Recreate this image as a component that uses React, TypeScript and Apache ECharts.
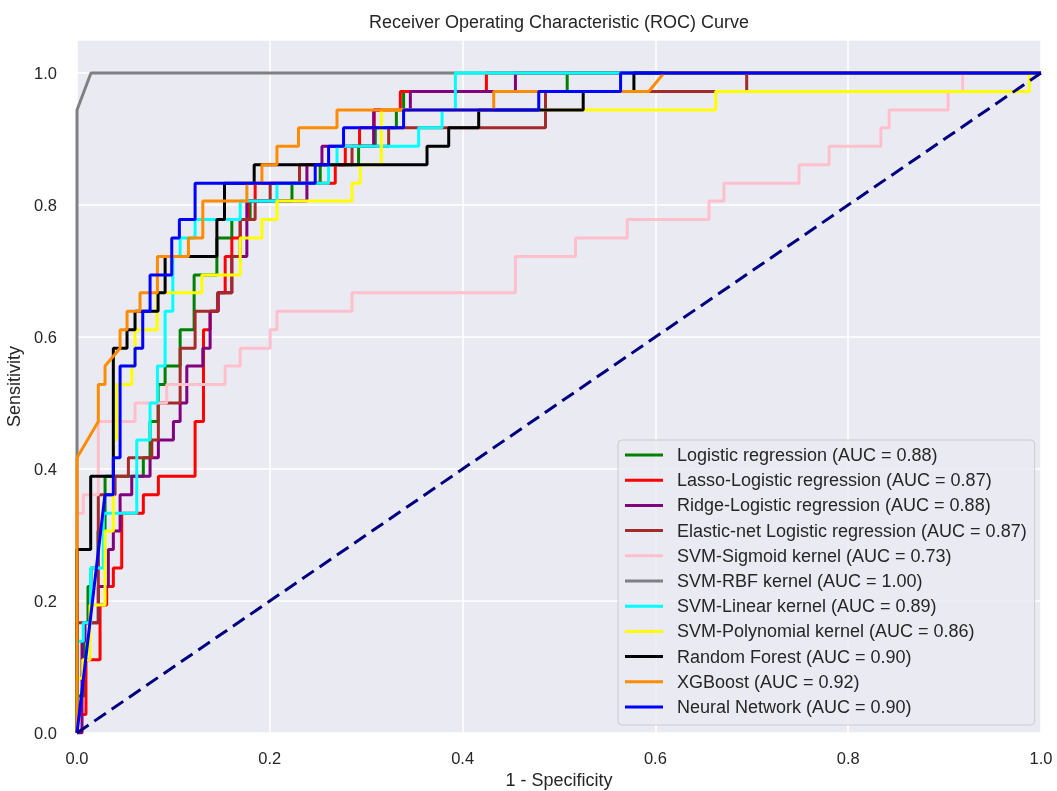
import React, { useEffect, useRef } from "react";
import * as echarts from "echarts";

// ---- data (FPR, TPR) ----
const logisticRoc = [[0,0],[0,0.056],[0.0073,0.056],[0.0073,0.167],[0.0114,0.167],[0.0114,0.222],[0.0145,0.222],[0.0145,0.25],[0.0218,0.25],[0.0218,0.306],[0.0291,0.306],[0.0291,0.389],[0.0688,0.389],[0.0688,0.417],[0.0758,0.417],[0.0758,0.472],[0.0841,0.472],[0.0841,0.528],[0.0914,0.528],[0.0914,0.556],[0.107,0.556],[0.107,0.611],[0.1215,0.611],[0.1215,0.694],[0.1451,0.694],[0.1451,0.75],[0.1606,0.75],[0.1606,0.778],[0.1796,0.778],[0.1796,0.806],[0.223,0.806],[0.223,0.833],[0.2523,0.833],[0.2523,0.861],[0.2921,0.861],[0.2921,0.889],[0.3094,0.889],[0.3094,0.917],[0.3313,0.917],[0.3313,0.944],[0.3388,0.944],[0.3388,0.972],[0.5085,0.972],[0.5085,1],[1,1]];
const lassoRoc = [[0,0],[0,0.028],[0.0093,0.028],[0.0093,0.111],[0.0239,0.111],[0.0239,0.194],[0.0308,0.194],[0.0308,0.222],[0.0377,0.222],[0.0377,0.25],[0.0464,0.25],[0.0464,0.333],[0.0688,0.333],[0.0688,0.361],[0.0844,0.361],[0.0844,0.389],[0.1225,0.389],[0.1225,0.472],[0.1312,0.472],[0.1312,0.611],[0.1381,0.611],[0.1381,0.639],[0.1464,0.639],[0.1464,0.667],[0.1537,0.667],[0.1537,0.722],[0.1606,0.722],[0.1606,0.75],[0.1693,0.75],[0.1693,0.778],[0.1776,0.778],[0.1776,0.806],[0.1848,0.806],[0.1848,0.833],[0.2679,0.833],[0.2679,0.861],[0.2783,0.861],[0.2783,0.889],[0.2931,0.889],[0.2931,0.917],[0.3084,0.917],[0.3084,0.944],[0.3354,0.944],[0.3354,0.972],[0.4247,0.972],[0.4247,1],[1,1]];
const ridgeRoc = [[0,0],[0.0052,0],[0.0052,0.139],[0.0083,0.139],[0.0083,0.167],[0.0221,0.167],[0.0221,0.222],[0.0325,0.222],[0.0325,0.278],[0.0377,0.278],[0.0377,0.306],[0.0447,0.306],[0.0447,0.361],[0.0568,0.361],[0.0568,0.389],[0.0758,0.389],[0.0758,0.417],[0.0844,0.417],[0.0844,0.444],[0.1,0.444],[0.1,0.472],[0.107,0.472],[0.107,0.5],[0.1139,0.5],[0.1139,0.556],[0.1305,0.556],[0.1305,0.583],[0.1381,0.583],[0.1381,0.639],[0.1464,0.639],[0.1464,0.667],[0.1606,0.667],[0.1606,0.722],[0.1762,0.722],[0.1762,0.806],[0.2385,0.806],[0.2385,0.861],[0.2541,0.861],[0.2541,0.889],[0.3077,0.889],[0.3077,0.944],[0.3458,0.944],[0.3458,0.972],[0.4548,0.972],[0.4548,1],[1,1]];
const elasticRoc = [[0,0],[0,0.167],[0.0221,0.167],[0.0221,0.361],[0.0395,0.361],[0.0395,0.389],[0.0533,0.389],[0.0533,0.417],[0.0776,0.417],[0.0776,0.444],[0.0844,0.444],[0.0844,0.5],[0.107,0.5],[0.107,0.583],[0.1225,0.583],[0.1225,0.639],[0.1457,0.639],[0.1457,0.667],[0.1606,0.667],[0.1606,0.722],[0.1693,0.722],[0.1693,0.778],[0.1848,0.778],[0.1848,0.806],[0.2004,0.806],[0.2004,0.833],[0.2308,0.833],[0.2308,0.861],[0.2853,0.861],[0.2853,0.889],[0.3233,0.889],[0.3233,0.917],[0.486,0.917],[0.486,0.972],[0.6947,0.972],[0.6947,1],[1,1]];
const sigmoidRoc = [[0,0],[0,0.333],[0.0065,0.333],[0.0065,0.361],[0.0221,0.361],[0.0221,0.472],[0.0602,0.472],[0.0602,0.5],[0.0931,0.5],[0.0931,0.528],[0.1537,0.528],[0.1537,0.556],[0.1693,0.556],[0.1693,0.583],[0.2004,0.583],[0.2004,0.611],[0.2074,0.611],[0.2074,0.639],[0.2853,0.639],[0.2853,0.667],[0.4548,0.667],[0.4548,0.722],[0.5171,0.722],[0.5171,0.75],[0.5708,0.75],[0.5708,0.778],[0.6556,0.778],[0.6556,0.806],[0.6711,0.806],[0.6711,0.833],[0.749,0.833],[0.749,0.861],[0.7802,0.861],[0.7802,0.889],[0.8339,0.889],[0.8339,0.917],[0.8425,0.917],[0.8425,0.944],[0.9037,0.944],[0.9037,0.972],[0.9187,0.972],[0.9187,1],[1,1]];
const rbfRoc = [[0,0],[0,0.944],[0.0145,1],[1,1]];
const linearRoc = [[0,0],[0,0.139],[0.0065,0.139],[0.0065,0.167],[0.0142,0.167],[0.0142,0.25],[0.0273,0.25],[0.0273,0.333],[0.062,0.333],[0.062,0.444],[0.0758,0.444],[0.0758,0.5],[0.0834,0.5],[0.0834,0.556],[0.0914,0.556],[0.0914,0.639],[0.0994,0.639],[0.0994,0.722],[0.107,0.722],[0.107,0.75],[0.1225,0.75],[0.1225,0.778],[0.1693,0.778],[0.1693,0.806],[0.2074,0.806],[0.2074,0.833],[0.261,0.833],[0.261,0.861],[0.2697,0.861],[0.2697,0.889],[0.3544,0.889],[0.3544,0.917],[0.3787,0.917],[0.3787,0.944],[0.3925,0.944],[0.3925,1],[1,1]];
const polyRoc = [[0,0],[0,0.083],[0.0059,0.083],[0.0059,0.111],[0.0135,0.111],[0.0135,0.194],[0.0291,0.194],[0.0291,0.306],[0.0377,0.306],[0.0377,0.444],[0.0412,0.444],[0.0412,0.528],[0.0568,0.528],[0.0568,0.556],[0.0602,0.556],[0.0602,0.611],[0.0831,0.611],[0.0831,0.667],[0.1295,0.667],[0.1295,0.694],[0.1693,0.694],[0.1693,0.75],[0.1918,0.75],[0.1918,0.778],[0.2074,0.778],[0.2074,0.806],[0.2853,0.806],[0.2853,0.833],[0.2939,0.833],[0.2939,0.861],[0.3157,0.861],[0.3157,0.944],[0.6625,0.944],[0.6625,0.972],[0.9878,0.972],[0.9878,1],[1,1]];
const forestRoc = [[0,0],[0,0.278],[0.0142,0.278],[0.0142,0.389],[0.0377,0.389],[0.0377,0.583],[0.0519,0.583],[0.0519,0.611],[0.0602,0.611],[0.0602,0.639],[0.0841,0.639],[0.0841,0.667],[0.0914,0.667],[0.0914,0.722],[0.1451,0.722],[0.1451,0.778],[0.153,0.778],[0.153,0.833],[0.1838,0.833],[0.1838,0.861],[0.3631,0.861],[0.3631,0.889],[0.3856,0.889],[0.3856,0.917],[0.4167,0.917],[0.4167,0.944],[0.5251,0.944],[0.5251,0.972],[0.5777,0.972],[0.5777,1],[1,1]];
const xgbRoc = [[0,0],[0,0.417],[0.0221,0.472],[0.0221,0.528],[0.0291,0.528],[0.0291,0.556],[0.0447,0.583],[0.0447,0.611],[0.0519,0.611],[0.0519,0.639],[0.0654,0.639],[0.0654,0.667],[0.0834,0.667],[0.0834,0.722],[0.1156,0.722],[0.1156,0.75],[0.1305,0.75],[0.1305,0.806],[0.1762,0.806],[0.1762,0.833],[0.1918,0.833],[0.1918,0.861],[0.2074,0.861],[0.2074,0.889],[0.2298,0.889],[0.2298,0.917],[0.2697,0.917],[0.2697,0.944],[0.4323,0.944],[0.4323,0.972],[0.5932,0.972],[0.6088,1],[1,1]];
const nnRoc = [[0,0],[0.029,0.361],[0.0377,0.361],[0.0377,0.417],[0.0447,0.417],[0.0447,0.556],[0.0602,0.556],[0.0602,0.583],[0.0682,0.583],[0.0682,0.639],[0.0758,0.639],[0.0758,0.694],[0.0983,0.694],[0.0983,0.75],[0.1062,0.75],[0.1062,0.778],[0.1225,0.778],[0.1225,0.833],[0.2471,0.833],[0.2471,0.861],[0.261,0.861],[0.261,0.889],[0.2765,0.889],[0.2765,0.917],[0.3388,0.917],[0.3388,0.944],[0.479,0.944],[0.479,0.972],[0.5639,0.972],[0.5639,1],[1,1]];
const chanceLine = [[0,0],[1,1]];

const modelNames = [
  "Logistic regression (AUC = 0.88)",
  "Lasso-Logistic regression (AUC = 0.87)",
  "Ridge-Logistic regression (AUC = 0.88)",
  "Elastic-net Logistic regression (AUC = 0.87)",
  "SVM-Sigmoid kernel (AUC = 0.73)",
  "SVM-RBF kernel (AUC = 1.00)",
  "SVM-Linear kernel (AUC = 0.89)",
  "SVM-Polynomial kernel (AUC = 0.86)",
  "Random Forest (AUC = 0.90)",
  "XGBoost (AUC = 0.92)",
  "Neural Network (AUC = 0.90)",
];
const modelColors = ["#008000","#ff0000","#800080","#a52a2a","#ffc0cb","#808080","#00ffff","#ffff00","#000000","#ff8c00","#0000ff"];
const modelCurves = [logisticRoc, lassoRoc, ridgeRoc, elasticRoc, sigmoidRoc, rbfRoc, linearRoc, polyRoc, forestRoc, xgbRoc, nnRoc];

const FONT = "'Liberation Sans', Arial, sans-serif";
const TXT = "#262626";

export default function App() {
  const ref = useRef<HTMLDivElement>(null);
  useEffect(() => {
    document.body.style.margin = "0";
    const chart = echarts.init(ref.current!, null, { renderer: "svg" });
    const tickFmt = (v: number) =>
      Math.abs(v * 5 - Math.round(v * 5)) < 1e-6 ? v.toFixed(1) : "";
    const series: any[] = modelCurves.map((d, i) => ({
      name: modelNames[i],
      type: "line",
      data: d,
      showSymbol: false,
      symbol: "none",
      clip: true,
      silent: true,
      color: modelColors[i],
      lineStyle: { width: 3, color: modelColors[i] },
    }));
    series.push({
      name: "chance",
      type: "line",
      data: chanceLine,
      showSymbol: false,
      symbol: "none",
      silent: true,
      lineStyle: { width: 3, color: "#000080", type: [14, 7] },
    });
    chart.setOption({
      animation: false,
      textStyle: { fontFamily: FONT },
      grid: {
        left: 77, right: 16, top: 40, bottom: 58,
        outerBoundsMode: "none",
        containLabel: false,
        show: true, backgroundColor: "#eaeaf2", borderWidth: 0,
      },
      graphic: [{
        type: "text", x: 559, y: 22,
        style: {
          text: "Receiver Operating Characteristic (ROC) Curve",
          fill: TXT, font: `18px ${FONT}`, textAlign: "center", textVerticalAlign: "middle",
        },
      }],
      xAxis: {
        type: "value", min: 0, max: 1, interval: 0.2,
        name: "1 - Specificity", nameLocation: "middle", nameGap: 36,
        nameTextStyle: { fontSize: 18, color: TXT, fontFamily: FONT },
        axisLine: { show: false }, axisTick: { show: false },
        axisLabel: { fontSize: 16.5, color: TXT, margin: 16, formatter: tickFmt, fontFamily: FONT },
        splitLine: { lineStyle: { color: "#ffffff", width: 1.5 } },
      },
      yAxis: {
        type: "value", min: 0, max: 1.05, interval: 0.2,
        name: "Sensitivity", nameLocation: "middle", nameGap: 46,
        nameTextStyle: { fontSize: 18, color: TXT, fontFamily: FONT },
        axisLine: { show: false }, axisTick: { show: false },
        axisLabel: { fontSize: 16.5, color: TXT, margin: 20, formatter: tickFmt, fontFamily: FONT },
        splitLine: { lineStyle: { color: "#ffffff", width: 1.5 } },
      },
      legend: {
        data: modelNames,
        orient: "vertical",
        left: 618, top: 440,
        icon: "rect",
        itemWidth: 38, itemHeight: 3, itemGap: 4.2,
        padding: [4.5, 8, 7.5, 7],
        backgroundColor: "rgba(234,234,242,0.8)",
        borderColor: "#cccccc", borderWidth: 1, borderRadius: 4,
        textStyle: { fontSize: 18, color: TXT, lineHeight: 21, fontFamily: FONT, padding: [0, 0, 0, 9] },
        selectedMode: false,
      },
      series,
    });
    return () => chart.dispose();
  }, []);
  return <div ref={ref} style={{ position: "fixed", left: 0, top: 0, width: 1057, height: 791 }} />;
}
